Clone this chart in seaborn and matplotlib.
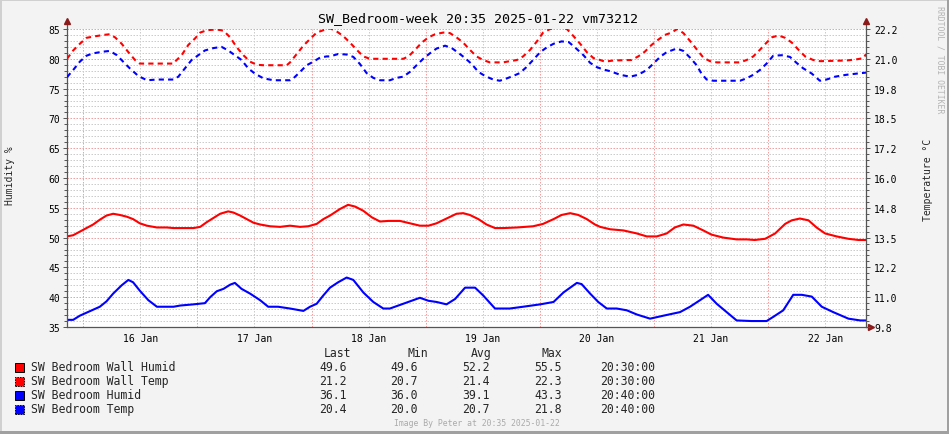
import numpy as np
import pandas as pd
import matplotlib
matplotlib.use("Agg")
import matplotlib.pyplot as plt
import matplotlib.dates as mdates
from matplotlib.patches import Rectangle
from matplotlib.ticker import FixedLocator, FixedFormatter
import seaborn as sns

# ---------------- data ----------------
START = pd.Timestamp("2025-01-15 20:35")
END = pd.Timestamp("2025-01-22 20:35")

# hours since START
wall_humid_t = [0, 1.3, 2.7, 4.1, 5.5, 6.9, 8.3, 9.7, 11.1, 12.6, 13.9, 15.3, 16.8, 18.9, 21.0, 22.4, 26.6, 28.0,
                29.4, 30.8, 32.2, 33.9, 35.0, 36.4, 37.8, 39.2, 40.6, 42.7, 44.8, 46.9, 49.0, 50.7, 52.5, 53.9, 55.3,
                57.4, 59.1, 60.6, 62.3, 64.1, 65.8, 67.6, 70.0, 72.1, 74.2, 76.0, 77.7, 79.8, 81.9, 83.3, 84.7, 86.5,
                88.2, 90.0, 91.7, 94.6, 98.0, 100.1, 102.3, 104.0, 105.8, 107.5, 109.3, 111.0, 112.1, 114.2, 117.0,
                119.8, 121.9, 124.0, 126.1, 127.8, 129.6, 131.7, 133.8, 135.5, 138.0, 140.8, 142.9, 144.6, 146.8,
                148.9, 151.0, 152.4, 154.1, 155.9, 157.6, 159.4, 161.8, 164.3, 166.4, 168]
wall_humid = [50.2, 50.4, 51.0, 51.6, 52.2, 53.0, 53.7, 54.0, 53.8, 53.5, 53.1, 52.4, 52.0, 51.7, 51.7, 51.6, 51.6,
              51.8, 52.6, 53.3, 54.0, 54.4, 54.2, 53.7, 53.1, 52.5, 52.2, 51.9, 51.8, 52.0, 51.8, 51.9, 52.3, 53.1,
              53.7, 54.8, 55.5, 55.2, 54.5, 53.4, 52.7, 52.8, 52.8, 52.4, 52.0, 52.0, 52.4, 53.2, 54.0, 54.1, 53.8,
              53.1, 52.2, 51.6, 51.6, 51.7, 51.9, 52.3, 53.1, 53.8, 54.1, 53.8, 53.1, 52.2, 51.8, 51.4, 51.2, 50.7,
              50.2, 50.2, 50.7, 51.7, 52.2, 52.0, 51.2, 50.5, 50.0, 49.7, 49.7, 49.6, 49.8, 50.7, 52.3, 52.9, 53.2,
              52.9, 51.7, 50.7, 50.2, 49.8, 49.6, 49.6]

wall_temp_t = [0, 1.3, 2.7, 4.1, 5.5, 7.6, 9.0, 10.1, 11.5, 12.9, 14.3, 15.3, 22.4, 22.7, 24.1, 25.5, 26.9, 28.0,
               29.4, 31.5, 32.9, 34.3, 35.7, 37.1, 38.5, 39.9, 41.3, 46.2, 46.9, 48.3, 49.7, 51.1, 52.5, 53.9, 55.3,
               56.7, 58.1, 59.5, 60.9, 62.3, 63.7, 70.7, 71.8, 73.2, 74.6, 76.0, 77.4, 79.1, 80.5, 81.9, 83.3, 84.7,
               86.1, 87.5, 88.9, 91.7, 93.1, 94.6, 95.9, 97.4, 98.8, 100.1, 101.6, 103.7, 105.1, 106.5, 107.9, 109.3,
               110.7, 112.1, 113.1, 114.9, 118.7, 120.1, 121.5, 122.9, 124.3, 125.7, 127.1, 128.3, 129.6, 131.0,
               132.4, 133.8, 135.2, 136.6, 141.5, 142.9, 144.3, 145.7, 147.1, 148.2, 149.6, 151.0, 152.4, 153.8,
               155.2, 156.9, 158.3, 163.9, 166.1, 167.5, 168]
wall_temp = [21.00, 21.35, 21.63, 21.88, 21.93, 22.00, 22.03, 21.90, 21.63, 21.28, 20.95, 20.80, 20.80, 20.88, 21.15,
             21.58, 21.85, 22.10, 22.20, 22.23, 22.18, 21.90, 21.48, 21.15, 20.88, 20.75, 20.73, 20.73, 20.85, 21.20,
             21.55, 21.83, 22.10, 22.20, 22.28, 22.15, 21.95, 21.68, 21.38, 21.10, 21.00, 21.00, 21.10, 21.38, 21.68,
             21.90, 22.03, 22.10, 22.08, 21.90, 21.68, 21.38, 21.10, 20.95, 20.85, 20.85, 20.90, 20.95, 21.10, 21.38,
             21.73, 22.10, 22.25, 22.33, 22.25, 21.95, 21.63, 21.28, 21.03, 20.95, 20.88, 20.93, 20.95, 21.10, 21.30,
             21.58, 21.80, 22.00, 22.10, 22.25, 22.08, 21.75, 21.40, 21.05, 20.90, 20.85, 20.85, 20.95, 21.10, 21.38,
             21.68, 21.90, 21.98, 21.88, 21.68, 21.38, 21.10, 20.95, 20.90, 20.93, 20.98, 21.03, 21.20]

humid_t = [0, 1.3, 2.7, 4.1, 5.5, 6.9, 8.3, 9.7, 11.5, 12.9, 13.9, 15.3, 17.1, 18.9, 22.4, 23.8, 26.6, 29.0, 30.1,
           31.5, 32.9, 34.3, 35.3, 36.7, 38.5, 40.6, 42.3, 44.4, 46.9, 49.7, 51.1, 52.5, 53.9, 55.3, 57.0, 58.8, 60.2,
           62.3, 64.4, 66.5, 67.9, 70.0, 72.1, 74.2, 76.0, 77.7, 79.8, 81.6, 83.7, 85.8, 87.5, 90.0, 93.1, 95.9, 99.5,
           102.3, 104.4, 107.2, 108.2, 110.0, 111.7, 113.5, 115.6, 117.7, 119.8, 122.6, 125.4, 128.9, 131.0, 133.1,
           134.8, 136.6, 138.7, 140.8, 143.9, 147.1, 148.5, 150.6, 152.7, 154.5, 156.6, 158.7, 161.1, 164.3, 166.8, 168]
humid = [36.2, 36.2, 36.9, 37.4, 37.9, 38.4, 39.3, 40.6, 42.0, 42.9, 42.5, 41.1, 39.5, 38.4, 38.4, 38.6, 38.8, 39.0,
         40.0, 41.0, 41.4, 42.1, 42.4, 41.4, 40.6, 39.5, 38.4, 38.4, 38.1, 37.7, 38.4, 38.9, 40.3, 41.6, 42.5, 43.3,
         42.9, 40.8, 39.2, 38.1, 38.1, 38.7, 39.3, 39.9, 39.4, 39.2, 38.8, 39.7, 41.6, 41.6, 40.3, 38.1, 38.1, 38.4,
         38.8, 39.2, 40.8, 42.4, 42.2, 40.6, 39.2, 38.1, 38.1, 37.8, 37.1, 36.4, 36.9, 37.5, 38.4, 39.5, 40.4, 38.9,
         37.5, 36.1, 36.0, 36.0, 36.7, 37.8, 40.4, 40.4, 40.1, 38.4, 37.5, 36.4, 36.1, 36.1]

temp_t = [0, 1.3, 2.7, 4.1, 5.5, 7.6, 9.0, 10.5, 11.8, 13.2, 15.0, 16.8, 18.9, 22.4, 23.4, 24.8, 26.2, 27.6, 29.0,
          30.8, 32.5, 33.9, 35.3, 36.7, 38.1, 39.5, 41.3, 43.4, 46.9, 47.6, 49.0, 50.4, 51.8, 53.2, 54.6, 55.3, 57.0,
          58.8, 60.2, 61.6, 63.0, 64.4, 65.8, 67.9, 69.3, 70.7, 72.1, 73.5, 74.9, 76.3, 77.7, 79.5, 80.9, 82.3, 83.7,
          85.1, 86.5, 87.9, 89.6, 91.0, 92.5, 93.8, 95.2, 96.6, 98.0, 99.5, 100.9, 102.3, 104.0, 105.5, 106.8, 108.6,
          110.0, 111.4, 112.8, 114.2, 116.3, 118.4, 120.1, 121.9, 123.3, 124.7, 126.1, 128.2, 129.6, 131.0, 132.4,
          133.4, 134.5, 135.9, 141.5, 142.9, 144.3, 145.7, 147.1, 148.5, 150.3, 152.0, 153.4, 154.8, 156.6, 158.3,
          159.7, 161.5, 163.9, 166.1, 168]
temp = [20.23, 20.53, 20.88, 21.13, 21.23, 21.30, 21.33, 21.15, 20.88, 20.60, 20.28, 20.10, 20.13, 20.13, 20.25,
        20.60, 20.95, 21.15, 21.35, 21.45, 21.50, 21.35, 21.15, 20.95, 20.60, 20.38, 20.18, 20.10, 20.10, 20.18,
        20.45, 20.73, 20.88, 21.05, 21.10, 21.10, 21.20, 21.18, 21.08, 20.78, 20.40, 20.20, 20.10, 20.10, 20.20,
        20.25, 20.45, 20.73, 21.00, 21.23, 21.43, 21.55, 21.45, 21.25, 21.03, 20.78, 20.45, 20.28, 20.13, 20.08,
        20.18, 20.28, 20.40, 20.65, 20.95, 21.28, 21.48, 21.63, 21.73, 21.70, 21.48, 21.15, 20.83, 20.65, 20.55,
        20.48, 20.33, 20.25, 20.33, 20.53, 20.80, 21.08, 21.28, 21.43, 21.33, 21.05, 20.73, 20.38, 20.13, 20.08,
        20.08, 20.18, 20.33, 20.53, 20.80, 21.13, 21.15, 21.08, 20.83, 20.60, 20.38, 20.08, 20.13, 20.25, 20.33,
        20.38, 20.42]

legend_names = ["SW Bedroom Wall Humid", "SW Bedroom Wall Temp", "SW Bedroom Humid", "SW Bedroom Temp"]
legend_colors = ["#ff0000", "#ff0000", "#0000ff", "#0000ff"]
legend_last = ["49.6", "21.2", "36.1", "20.4"]
legend_min = ["49.6", "20.7", "36.0", "20.0"]
legend_avg = ["52.2", "21.4", "39.1", "20.7"]
legend_max = ["55.5", "22.3", "43.3", "21.8"]
legend_time = ["20:30:00", "20:30:00", "20:40:00", "20:40:00"]

humid_ticks = list(range(35, 86, 5))
TITLE = "SW_Bedroom-week 20:35 2025-01-22 vm73212"

# ---------------- style ----------------
sns.set_style("white")
plt.rcParams["font.family"] = ["DejaVu Sans Mono", "DejaVu Sans"]

W, H = 949, 435
BG = "#f3f3f3"
AXC = "#555555"
ARROW = "#8b1a1a"
fig = plt.figure(figsize=(W / 100, H / 100), dpi=100, facecolor=BG)

def fx(px):
    return px / W

def fy(py):
    return 1 - py / H

L, R, T, B = 67, 866, 30, 328
ax = fig.add_axes([fx(L), fy(B), (R - L) / W, (B - T) / H])
ax.set_facecolor("white")
ax2 = ax.twinx()


def frame(t, v):
    return pd.DataFrame({"time": START + pd.to_timedelta(np.array(t, dtype=float), unit="h"), "value": v})


dash = (0, (2.5, 2.0))
sns.lineplot(data=frame(wall_humid_t, wall_humid), x="time", y="value", ax=ax, color="#ff0000",
             linewidth=1.5, estimator=None, sort=False, legend=False)
sns.lineplot(data=frame(humid_t, humid), x="time", y="value", ax=ax, color="#0000ff",
             linewidth=1.5, estimator=None, sort=False, legend=False)
sns.lineplot(data=frame(wall_temp_t, wall_temp), x="time", y="value", ax=ax2, color="#ff0000",
             linewidth=1.5, linestyle=dash, estimator=None, sort=False, legend=False)
sns.lineplot(data=frame(temp_t, temp), x="time", y="value", ax=ax2, color="#0000ff",
             linewidth=1.5, linestyle=dash, estimator=None, sort=False, legend=False)

for a in (ax, ax2):
    a.set_xlabel("")
    a.set_ylabel("")
    a.grid(False)

ax.set_xlim(START, END)
ax.set_ylim(35, 85)
ax2.set_ylim(0.25 * 35 + 1, 0.25 * 85 + 1)

# y ticks / grid
ax.set_yticks(humid_ticks)
ax.set_yticks(range(35, 86), minor=True)
ax.grid(True, which="minor", axis="y", color="#cccccc", linewidth=0.72, linestyle=(0, (1.5, 1.5)))
ax.grid(True, which="major", axis="y", color="#f2a0a0", linewidth=0.72, linestyle=(0, (1.5, 1.5)))

temp_ticks = [0.25 * h + 1 for h in humid_ticks]
ax2.yaxis.set_major_locator(FixedLocator(temp_ticks))
ax2.yaxis.set_major_formatter(FixedFormatter(["%.1f" % v for v in temp_ticks]))
ax2.yaxis.set_minor_locator(FixedLocator([0.25 * h + 1 for h in range(35, 86)]))

# x ticks / grid
ax.xaxis.set_major_locator(mdates.HourLocator(byhour=[12]))
ax.xaxis.set_major_formatter(mdates.DateFormatter("%d %b"))
ax.xaxis.set_minor_locator(mdates.HourLocator(byhour=[0]))
ax.grid(True, which="major", axis="x", color="#cccccc", linewidth=0.72, linestyle=(0, (1.5, 1.5)))
ax.grid(True, which="minor", axis="x", color="#f2a0a0", linewidth=0.72, linestyle=(0, (1.5, 1.5)))
ax.set_axisbelow(True)

ax.tick_params(axis="x", which="both", length=2, width=0.7, color=AXC, labelsize=7, pad=2.3, labelcolor="black")
ax.tick_params(axis="y", which="major", length=3, width=0.7, color=AXC, labelsize=7, pad=2, labelcolor="black")
ax.tick_params(axis="y", which="minor", length=2, width=0.7, color=AXC)
ax2.tick_params(axis="y", which="major", length=3, width=0.7, color=AXC, labelsize=7, pad=2.7, labelcolor="black")
ax2.tick_params(axis="y", which="minor", length=2, width=0.7, color=AXC)

for s in ("top", "right"):
    ax.spines[s].set_visible(False)
for s in ("top", "left", "bottom"):
    ax2.spines[s].set_visible(False)
for sp in (ax.spines["left"], ax.spines["bottom"], ax2.spines["right"]):
    sp.set_color(AXC)
    sp.set_linewidth(0.9)

# axis extensions and arrows
ext_y = 6 / (B - T)
ax.plot([0, 0], [1, 1 + ext_y], transform=ax.transAxes, color=AXC, lw=0.9, clip_on=False)
ax.plot([1, 1], [1, 1 + ext_y], transform=ax.transAxes, color=AXC, lw=0.9, clip_on=False)
ax.plot([0], [1 + 8 / (B - T)], marker="^", ms=4, color=ARROW, transform=ax.transAxes, clip_on=False)
ax.plot([1], [1 + 8 / (B - T)], marker="^", ms=4, color=ARROW, transform=ax.transAxes, clip_on=False)
ax.plot([1, 1 + 4 / (R - L)], [0, 0], transform=ax.transAxes, color=AXC, lw=0.9, clip_on=False)
ax.plot([1 + 5 / (R - L)], [0], marker=">", ms=4, color=ARROW, transform=ax.transAxes, clip_on=False)

# axis titles
fig.text(fx(10), fy(176), "Humidity %", rotation=90, ha="center", va="center", fontsize=7)
fig.text(fx(928), fy(180), "Temperature °C", rotation=90, ha="center", va="center", fontsize=7)

# title
fig.text(fx(478), fy(19), TITLE, ha="center", va="center", fontsize=9.6, color="black")

# side credit & footer
fig.text(fx(940), fy(60), "RRDTOOL / TOBI OETIKER", rotation=270, ha="center", va="center",
         fontsize=5.9, color="#b4b4b4")
fig.text(fx(477), fy(424), "Image By Peter at 20:35 2025-01-22", ha="center", va="center",
         fontsize=5.9, color="#aaaaaa")

# legend table
LF = 8.3
fig.text(fx(324), fy(354), "Last", ha="left", va="center", fontsize=LF)
fig.text(fx(407), fy(354), "Min", ha="left", va="center", fontsize=LF)
fig.text(fx(471), fy(354), "Avg", ha="left", va="center", fontsize=LF)
fig.text(fx(541), fy(354), "Max", ha="left", va="center", fontsize=LF)
rows_y = [368, 382, 396, 410]
for i, yy in enumerate(rows_y):
    ls = "solid" if i % 2 == 0 else (0, (1.5, 1.2))
    fig.add_artist(Rectangle((fx(15), fy(yy + 4.5)), 9 / W, 9 / H, transform=fig.transFigure,
                             facecolor=legend_colors[i], edgecolor="black", linewidth=0.7, linestyle=ls))
    fig.text(fx(30.5), fy(yy), legend_names[i], ha="left", va="center", fontsize=LF)
    fig.text(fx(347), fy(yy), legend_last[i], ha="right", va="center", fontsize=LF)
    fig.text(fx(418), fy(yy), legend_min[i], ha="right", va="center", fontsize=LF)
    fig.text(fx(490), fy(yy), legend_avg[i], ha="right", va="center", fontsize=LF)
    fig.text(fx(562), fy(yy), legend_max[i], ha="right", va="center", fontsize=LF)
    fig.text(fx(600), fy(yy), legend_time[i], ha="left", va="center", fontsize=LF)

# 3D-ish frame border
fig.add_artist(Rectangle((0, 1 - 2 / H), 1, 2 / H, transform=fig.transFigure, color="#d0d0d0", lw=0))
fig.add_artist(Rectangle((0, 0), 2 / W, 1, transform=fig.transFigure, color="#d0d0d0", lw=0))
fig.add_artist(Rectangle((0, 0), 1, 3 / H, transform=fig.transFigure, color="#a0a0a0", lw=0))
fig.add_artist(Rectangle((1 - 2 / W, 0), 2 / W, 1, transform=fig.transFigure, color="#a0a0a0", lw=0))

fig.savefig("out.png", dpi=100, facecolor=BG)
